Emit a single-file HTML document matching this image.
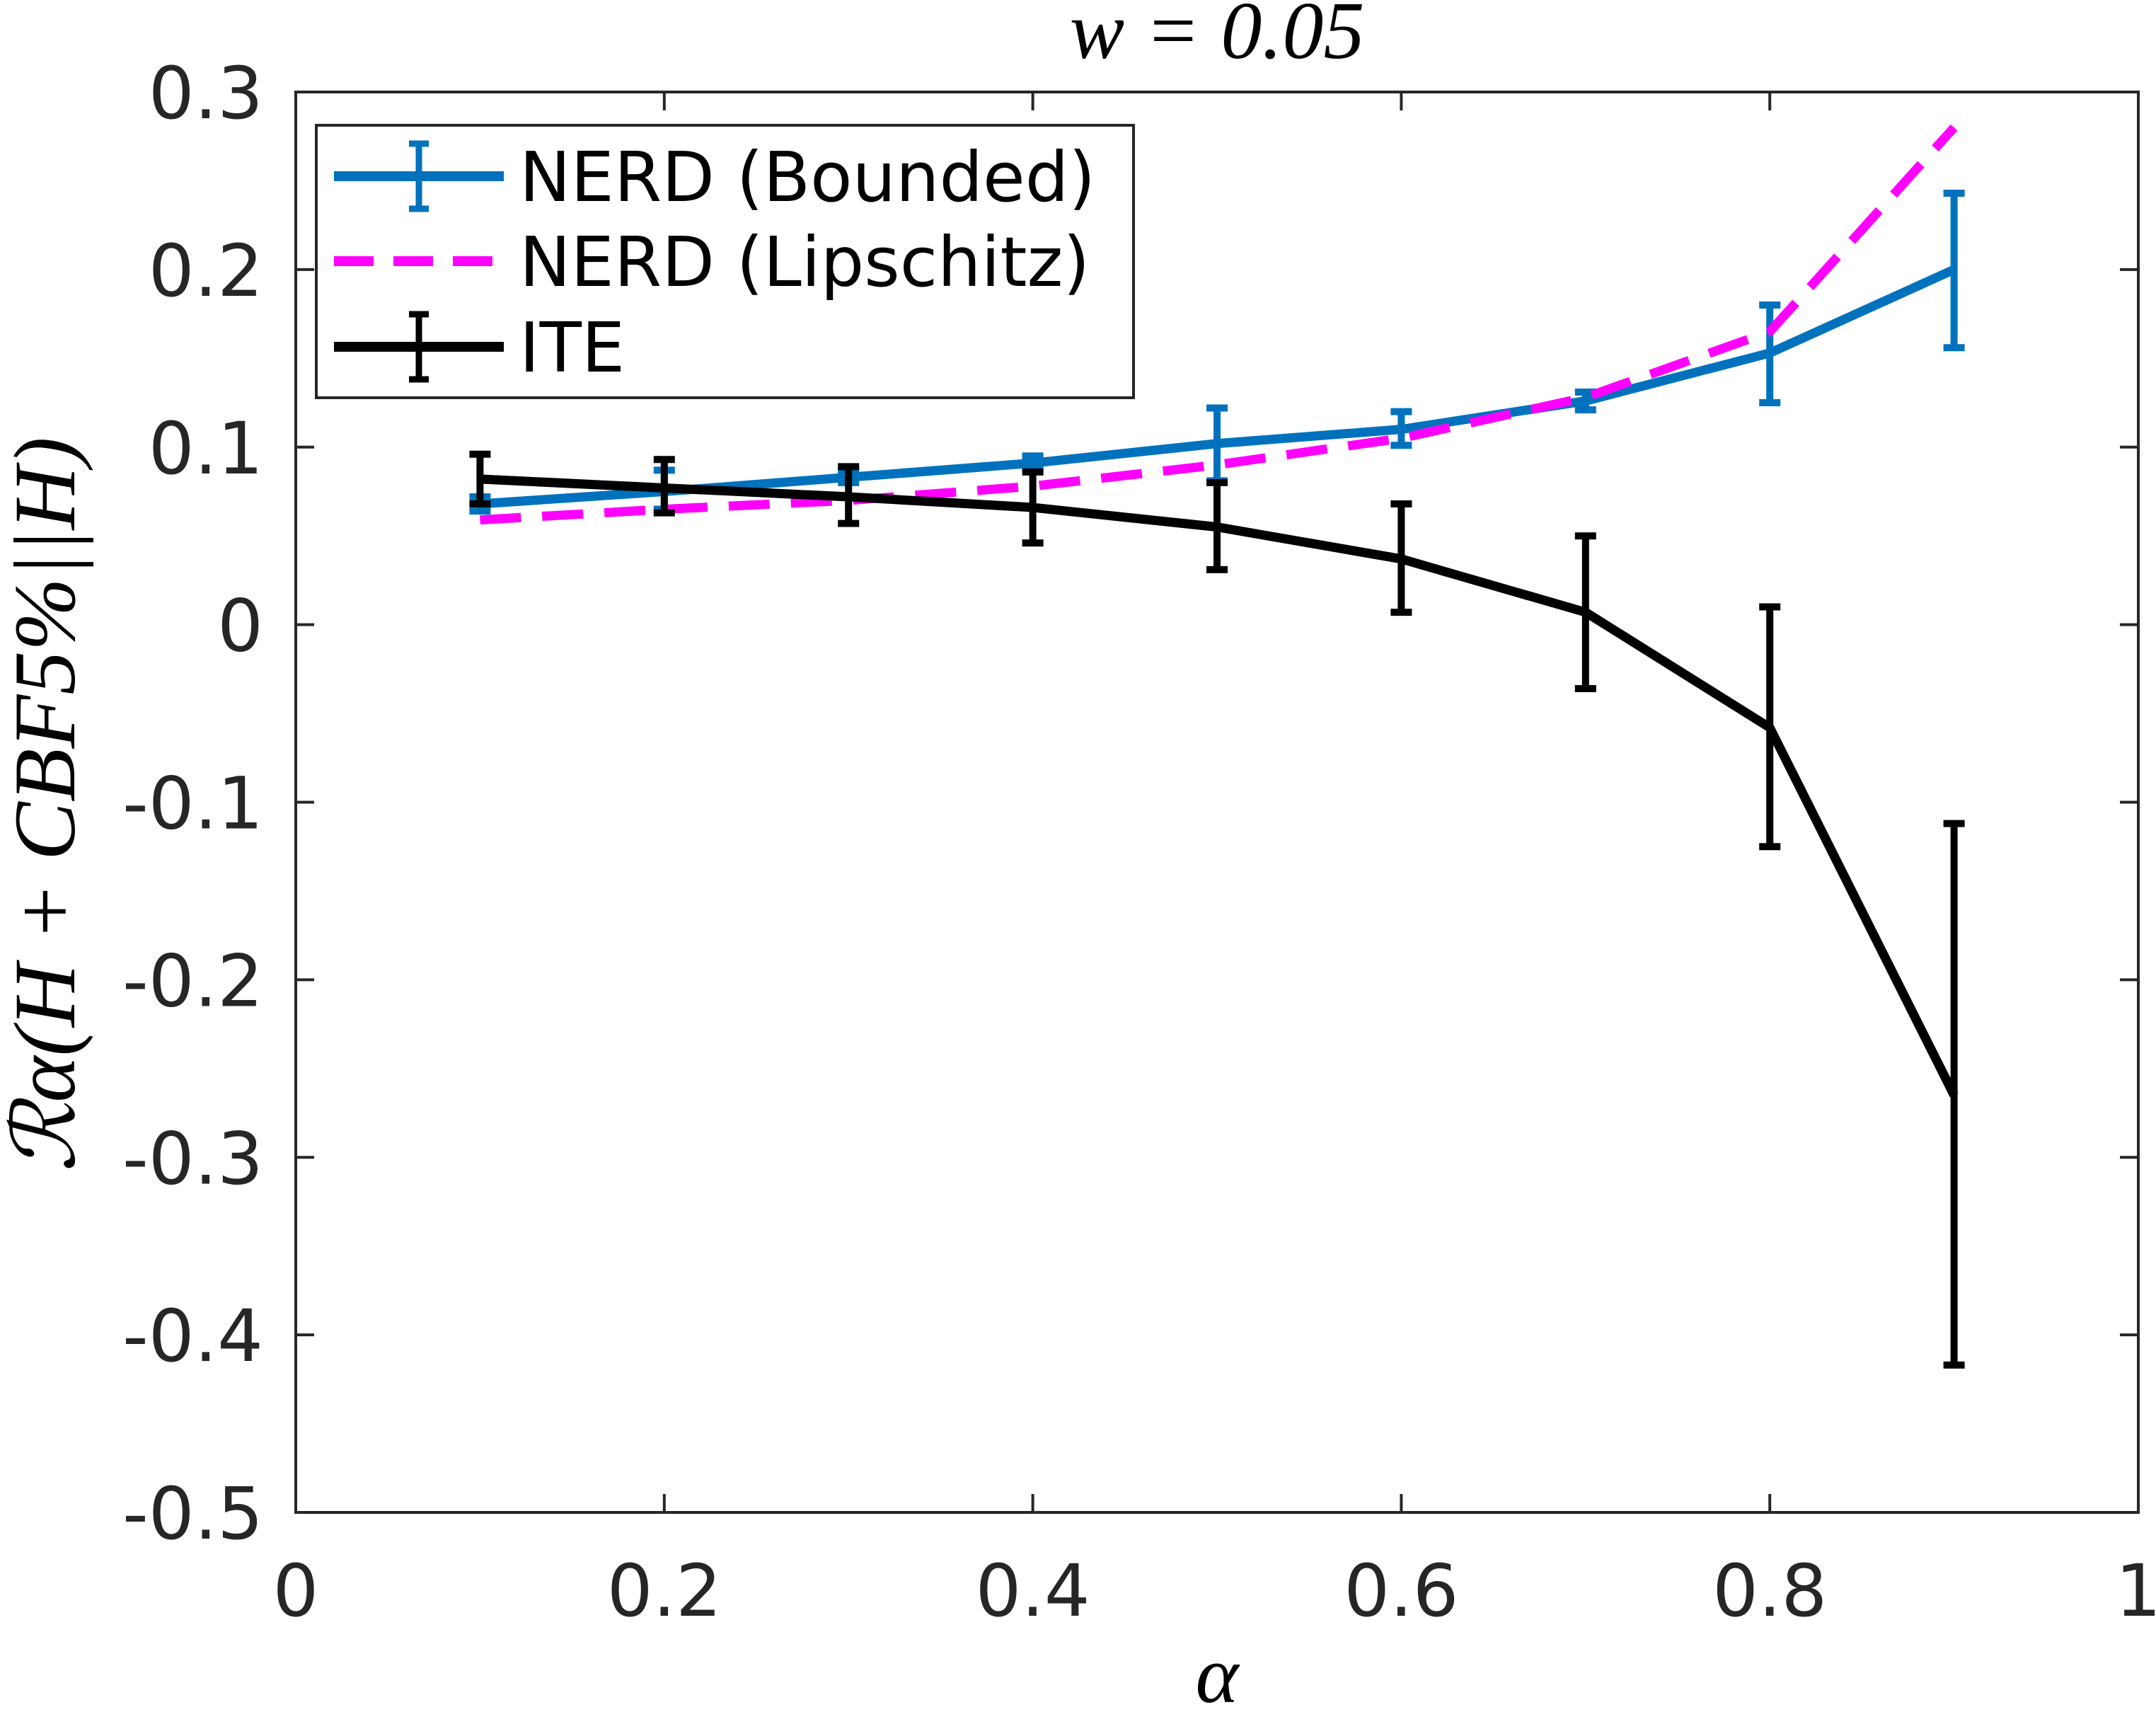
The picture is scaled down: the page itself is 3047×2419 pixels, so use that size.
<!DOCTYPE html>
<html><head><meta charset="utf-8"><style>
html,body{margin:0;padding:0;background:#fff;}
svg{display:block;}
text{font-family:"DejaVu Sans","Liberation Sans",sans-serif;}
</style></head><body>
<svg id="chart" width="3047" height="2419" viewBox="0 0 3047 2419" xmlns="http://www.w3.org/2000/svg">
<rect width="3047" height="2419" fill="#fff"/>
<text x="1720" y="82" style="font-family:'Liberation Serif',serif" font-style="italic" font-size="116" text-anchor="middle" fill="#000">w = 0.05</text>
<text transform="translate(105,1137) rotate(-90)" style="font-family:'Liberation Serif',serif" font-style="italic" font-size="124" text-anchor="middle" fill="#000">ℛα(H + CBF5%||H)</text>
<text x="1720" y="2405" style="font-family:'Liberation Serif',serif" font-style="italic" font-size="116" text-anchor="middle" fill="#000">α</text>
<g id="grid"></g>
<g id="series"></g>
<rect x="418" y="130" width="2604" height="2007" fill="none" stroke="#262626" stroke-width="4"/>
<g>
<rect x="447" y="177" width="1155" height="385" fill="#fff" stroke="#262626" stroke-width="4"/>
<g>
<line x1="472" y1="249" x2="712" y2="249" stroke="#0072BD" stroke-width="14"/>
<line x1="592" y1="203" x2="592" y2="295" stroke="#0072BD" stroke-width="9"/>
<line x1="578" y1="203" x2="606" y2="203" stroke="#0072BD" stroke-width="9"/>
<line x1="578" y1="295" x2="606" y2="295" stroke="#0072BD" stroke-width="9"/>
<text x="734" y="284" font-size="97" fill="#000">NERD (Bounded)</text></g>
<g>
<line x1="472" y1="369" x2="712" y2="369" stroke="#FF00FF" stroke-width="14" stroke-dasharray="56,28"/>
<text x="734" y="404" font-size="97" fill="#000">NERD (Lipschitz)</text></g>
<g>
<line x1="472" y1="490" x2="712" y2="490" stroke="#000" stroke-width="14"/>
<line x1="592" y1="444" x2="592" y2="536" stroke="#000" stroke-width="9"/>
<line x1="578" y1="444" x2="606" y2="444" stroke="#000" stroke-width="9"/>
<line x1="578" y1="536" x2="606" y2="536" stroke="#000" stroke-width="9"/>
<text x="734" y="525" font-size="97" fill="#000">ITE</text></g>
</g>
</svg>
<script>
const alphas=[0.1,0.2,0.3,0.4,0.5,0.6,0.7,0.8,0.9];
const boundedMean=[0.068,0.075,0.083,0.091,0.102,0.110,0.126,0.153,0.200];
const boundedLo=[0.064,0.065,0.080,0.088,0.081,0.101,0.121,0.125,0.156];
const boundedHi=[0.072,0.087,0.087,0.095,0.122,0.120,0.131,0.180,0.243];
const lipschitzMean=[0.059,0.065,0.070,0.078,0.090,0.105,0.128,0.165,0.280];
const iteMean=[0.082,0.077,0.072,0.066,0.055,0.037,0.007,-0.058,-0.265];
const iteLo=[0.068,0.063,0.057,0.046,0.031,0.007,-0.036,-0.125,-0.417];
const iteHi=[0.096,0.093,0.089,0.086,0.080,0.068,0.050,0.010,-0.112];
const xTicks=[0,0.2,0.4,0.6,0.8,1];
const xTickLabels=["0","0.2","0.4","0.6","0.8","1"];
const yTicks=[0.3,0.2,0.1,0,-0.1,-0.2,-0.3,-0.4,-0.5];
const yTickLabels=["0.3","0.2","0.1","0","-0.1","-0.2","-0.3","-0.4","-0.5"];

const NS="http://www.w3.org/2000/svg";
const L=418,R=3022,T=130,B=2137;
const X=v=>L+(v-0)/(1-0)*(R-L);
const Y=v=>B-(v-(-0.5))/(0.3-(-0.5))*(B-T);
function mk(tag,attrs,parent){const e=document.createElementNS(NS,tag);for(const k in attrs)e.setAttribute(k,attrs[k]);parent.appendChild(e);return e;}
const grid=document.getElementById('grid');
const ser=document.getElementById('series');
xTicks.forEach((v,i)=>{
  const x=X(v);
  let t=mk('line',{x1:x,y1:B,x2:x,y2:B-26,stroke:'#262626','stroke-width':4},grid);
  
  
  t=mk('line',{x1:x,y1:T,x2:x,y2:T+26,stroke:'#262626','stroke-width':4},grid);
  
  
  const tx=mk('text',{x:x,y:2283,'font-size':102,'text-anchor':'middle',fill:'#262626'},grid);
  tx.textContent=xTickLabels[i];
  
  
});
yTicks.forEach((v,i)=>{
  const y=Y(v);
  let t=mk('line',{x1:L,y1:y,x2:L+26,y2:y,stroke:'#262626','stroke-width':4},grid);
  
  
  t=mk('line',{x1:R,y1:y,x2:R-26,y2:y,stroke:'#262626','stroke-width':4},grid);
  
  
  const tx=mk('text',{x:372,y:y+37,'font-size':102,'text-anchor':'end',fill:'#262626'},grid);
  tx.textContent=yTickLabels[i];
  
  
});
function pts(arr){return alphas.map((a,i)=>X(a)+','+Y(arr[i])).join(' ');}
function errbars(lo,hi,color,name){
  alphas.forEach((a,i)=>{
    const g=mk('g',{stroke:color,'stroke-width':10},ser);
    
    
    const x=X(a);
    mk('line',{x1:x,y1:Y(lo[i]),x2:x,y2:Y(hi[i])},g);
    mk('line',{x1:x-15,y1:Y(lo[i]),x2:x+15,y2:Y(lo[i])},g);
    mk('line',{x1:x-15,y1:Y(hi[i]),x2:x+15,y2:Y(hi[i])},g);
  });
}
let p=mk('polyline',{points:pts(boundedMean),fill:'none',stroke:'#0072BD','stroke-width':13,'stroke-linejoin':'round'},ser);


errbars(boundedLo,boundedHi,'#0072BD','nerd-bounded-errorbar');
p=mk('polyline',{points:pts(lipschitzMean),fill:'none',stroke:'#FF00FF','stroke-width':13,'stroke-dasharray':'58,30'},ser);


p=mk('polyline',{points:pts(iteMean),fill:'none',stroke:'#000','stroke-width':13,'stroke-linejoin':'round'},ser);


errbars(iteLo,iteHi,'#000','ite-errorbar');
</script>
</body></html>
